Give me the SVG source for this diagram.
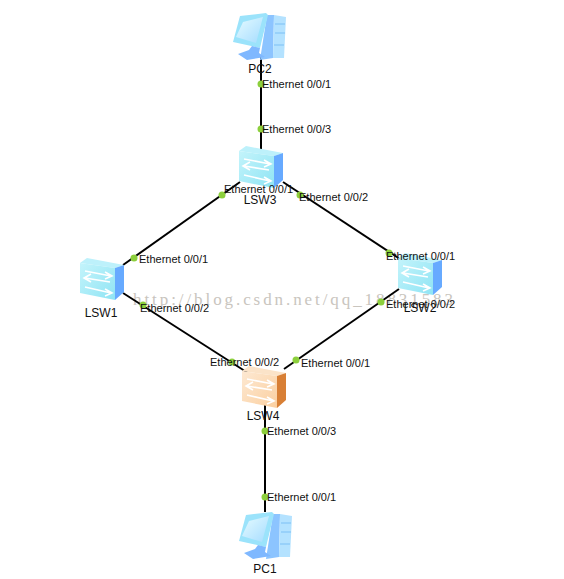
<svg xmlns="http://www.w3.org/2000/svg" width="564" height="579" viewBox="0 0 564 579">
<style>
text{font-family:"Liberation Sans",Arial,sans-serif;font-size:11px;fill:#111}
.n{font-size:12px;text-anchor:middle}
text.wm{font-family:"Liberation Serif","DejaVu Serif",serif;font-size:17px;fill:#c9c5be}
.l{stroke:#000;stroke-width:2;fill:none}
.d{fill:#8ccf3c}
</style>
<defs>
<linearGradient id="bf" x1="0" y1="0" x2="1" y2="1"><stop offset="0" stop-color="#c4f4fb"/><stop offset="1" stop-color="#8fe4f4"/></linearGradient>
<linearGradient id="of" x1="0" y1="0" x2="1" y2="1"><stop offset="0" stop-color="#fde9d3"/><stop offset="1" stop-color="#fbcf9f"/></linearGradient>
<linearGradient id="sc" x1="0" y1="0" x2="1" y2="1"><stop offset="0" stop-color="#e6fbff"/><stop offset="1" stop-color="#a5dcff"/></linearGradient>
<g id="arrows" fill="none" stroke="#fff" stroke-width="1.6">
<path d="M5 13 L31 18 M25 14 L32 18 L25 21"/><path d="M30 24 L5 20 M11 16 L4 20 L11 24"/>
<path d="M5 29 L31 35 M25 31 L32 35 L25 38"/>
</g>
<g id="sw">
<polygon points="0,5 7,0 44,7 35,10" fill="#bdf1fb"/>
<polygon points="0,5 35,10 35,42 0,35" fill="url(#bf)"/>
<polygon points="35,10 44,7 44,34 35,42" fill="#67aaff"/>
<use href="#arrows"/>
</g>
<g id="swo">
<polygon points="0,5 7,0 44,7 35,10" fill="#fbe3c8"/>
<polygon points="0,5 35,10 35,42 0,35" fill="url(#of)"/>
<polygon points="35,10 44,7 44,34 35,42" fill="#d87f35"/>
<use href="#arrows"/>
</g>
<g id="pc">
<polygon points="34,3 41,3 40,46 27,48" fill="#8cc4ff"/>
<polygon points="41,3 53,5 51,46 40,46" fill="#b4e2ff"/>
<path d="M42 12H52M42 21H52M41 33H51" stroke="#7cc0f5" stroke-width="1"/>
<polygon points="7,4 33,1 35,3 27,36 0,30" fill="#9be3fb"/>
<polygon points="10,10 30,5 23,31 3,25" fill="url(#sc)"/>
<polygon points="19,34 27,36 26,41 32,45 14,48 5,42 16,38" fill="#7fb8ff"/>
</g>
</defs>
<text class="wm" x="133" y="305" textLength="320" lengthAdjust="spacing">http://blog.csdn.net/qq_18831583</text>
<g id="connectors">
<line class="l" x1="261" y1="55" x2="261" y2="150"/>
<line class="l" x1="240" y1="182" x2="123" y2="265"/>
<line class="l" x1="283" y1="182" x2="400" y2="259"/>
<line class="l" x1="123" y1="293" x2="248" y2="373"/>
<line class="l" x1="399" y1="289" x2="284" y2="369"/>
<line class="l" x1="265" y1="402" x2="265" y2="512"/>
<circle class="d" cx="261" cy="84" r="3.5"/>
<circle class="d" cx="261" cy="129" r="3.5"/>
<circle class="d" cx="222" cy="195" r="3.5"/>
<circle class="d" cx="300" cy="195" r="3.5"/>
<circle class="d" cx="134" cy="258" r="3.5"/>
<circle class="d" cx="143" cy="305" r="3.5"/>
<circle class="d" cx="389" cy="253" r="3.5"/>
<circle class="d" cx="381" cy="302" r="3.5"/>
<circle class="d" cx="232" cy="362" r="3.5"/>
<circle class="d" cx="296" cy="360" r="3.5"/>
<circle class="d" cx="265" cy="431" r="3.5"/>
<circle class="d" cx="265" cy="497" r="3.5"/>
</g>
<g id="PC2"><use href="#pc" x="233" y="12"/><text class="n" x="260" y="73">PC2</text></g>
<g id="LSW3"><use href="#sw" x="239" y="146"/><text class="n" x="260" y="204">LSW3</text></g>
<g id="LSW1"><use href="#sw" x="80" y="258"/><text class="n" x="101" y="317">LSW1</text></g>
<g id="LSW2"><use href="#sw" x="398" y="253"/><text class="n" x="420" y="312">LSW2</text></g>
<g id="LSW4"><use href="#swo" x="242" y="366"/><text class="n" x="263" y="420">LSW4</text></g>
<g id="PC1"><use href="#pc" x="239" y="511"/><text class="n" x="265" y="573">PC1</text></g>
<g id="port-labels">
<text x="262" y="88">Ethernet 0/0/1</text>
<text x="262" y="133">Ethernet 0/0/3</text>
<text x="224" y="193">Ethernet 0/0/1</text>
<text x="299" y="201">Ethernet 0/0/2</text>
<text x="139" y="263">Ethernet 0/0/1</text>
<text x="140" y="312">Ethernet 0/0/2</text>
<text x="386" y="260">Ethernet 0/0/1</text>
<text x="386" y="308">Ethernet 0/0/2</text>
<text x="210" y="366">Ethernet 0/0/2</text>
<text x="301" y="367">Ethernet 0/0/1</text>
<text x="267" y="435">Ethernet 0/0/3</text>
<text x="267" y="501">Ethernet 0/0/1</text>
</g>
</svg>
